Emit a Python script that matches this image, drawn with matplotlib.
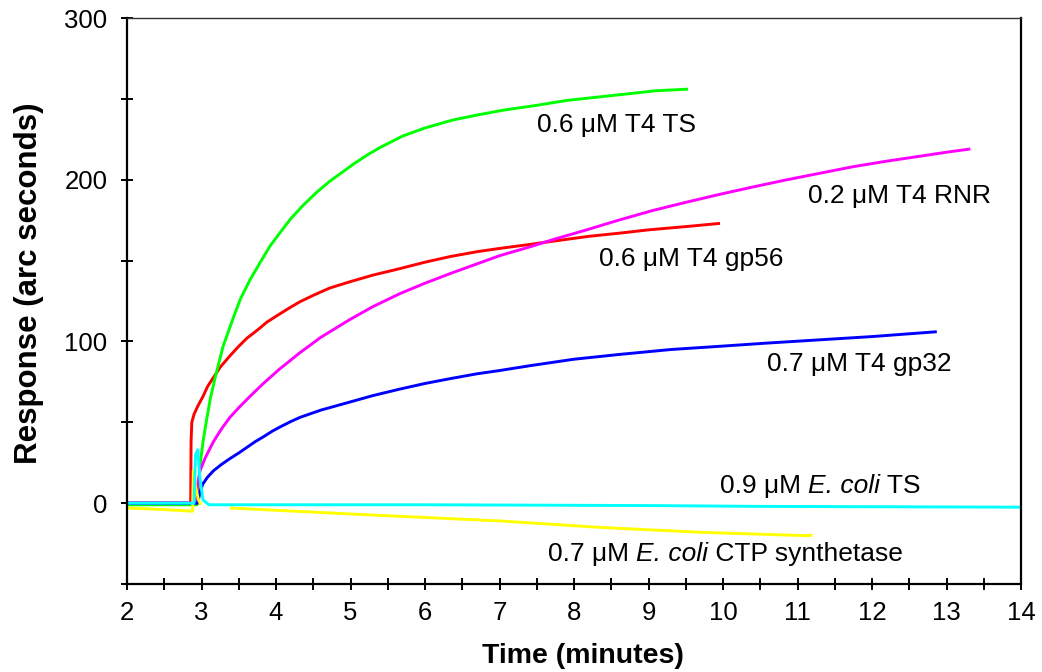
import matplotlib
matplotlib.use("Agg")
import matplotlib.pyplot as plt
from matplotlib.ticker import MultipleLocator, FixedLocator

plt.rcParams['font.family'] = ['Liberation Sans', 'DejaVu Sans']

# ---- data (time in minutes, response in arc seconds) ----
gp56_x = [2.0, 2.855, 2.86, 2.87, 2.9, 2.95, 3.02, 3.08, 3.15, 3.25, 3.38, 3.5, 3.61, 3.75, 3.88,
          4.05, 4.19, 4.32, 4.5, 4.72, 5.0, 5.3, 5.66, 6.0, 6.34, 6.7, 7.0, 7.41, 7.72, 8.2, 8.62,
          9.0, 9.5, 9.96]
gp56_y = [0, 0, 38, 50, 55, 60, 66, 72, 77, 84, 91, 97, 102, 107, 112,
          117, 121, 124.5, 128.5, 133, 137, 141, 145, 149, 152.5, 155.5, 157.5, 160, 162, 165, 167,
          169, 171, 173]

ts_x = [2.0, 2.94, 2.96, 2.98, 3.02, 3.07, 3.12, 3.18, 3.24, 3.29, 3.36, 3.43, 3.52, 3.65, 3.79,
        3.92, 4.05, 4.2, 4.36, 4.54, 4.72, 4.9, 5.05, 5.25, 5.40, 5.70, 6.0, 6.38, 6.7, 7.05,
        7.5, 7.9, 8.3, 8.7, 9.1, 9.53]
ts_y = [-1, -1, 8, 23, 38, 52, 65, 77, 88, 97, 106, 115, 126, 138, 149,
        159, 167, 176, 184, 192, 199, 205, 210, 216, 220, 227, 232, 237, 240, 243,
        246, 249, 251, 253, 255, 256]

rnr_x = [2.0, 2.93, 2.95, 2.98, 3.05, 3.16, 3.27, 3.38, 3.5, 3.65, 3.83, 4.05, 4.32, 4.6, 4.99,
         5.3, 5.66, 6.0, 6.34, 6.7, 7.0, 7.41, 7.72, 8.17, 8.6, 9.06, 9.5, 9.96, 10.4, 10.86,
         11.3, 11.74, 12.2, 12.64, 13.0, 13.32]
rnr_y = [0, 0, 12, 20, 28, 38, 46, 53, 59, 66, 74, 83, 93, 102.5, 113.5,
         121.5, 129.5, 136, 142, 148, 153, 158.5, 163, 169, 175, 181, 186, 191, 195.5, 200,
         204, 208, 211.5, 214.5, 217, 219]

gp32_x = [2.0, 2.95, 2.98, 3.02, 3.08, 3.16, 3.27, 3.38, 3.5, 3.61, 3.72, 3.83, 3.95, 4.05, 4.2,
          4.32, 4.6, 4.99, 5.3, 5.66, 6.0, 6.34, 6.7, 7.0, 7.41, 8.0, 8.62, 9.3, 9.96, 10.6,
          11.3, 12.0, 12.87]
gp32_y = [0, 0, 7, 12, 16, 20, 24, 27.5, 31, 34.5, 38, 41, 44.5, 47, 50.5,
          53, 57.5, 62.5, 66.5, 70.5, 74, 77, 80, 82, 85, 89, 92, 95, 97, 99,
          101, 103, 106]

ctp_x1 = [2.0, 2.5, 2.88, 2.89, 2.92, 2.96, 2.99]
ctp_y1 = [-3, -4, -5, 20, 10, 2, -1]
ctp_x2 = [3.38, 5.13, 7.0, 8.35, 9.69, 11.03, 11.2]
ctp_y2 = [-3, -7, -11, -15, -18, -20, -20]

ects_x = [2.0, 2.9, 2.92, 2.95, 2.98, 3.02, 3.1, 3.3, 6.0, 9.0, 10.5, 14.0]
ects_y = [0, 0, 30, 33, 15, 2, -1, -1, -1, -1.5, -2, -2.5]

# label pieces: (text, italic?)
labels = [
    [("0.6 μM T4 TS", False)],
    [("0.2 μM T4 RNR", False)],
    [("0.6 μM T4 gp56", False)],
    [("0.7 μM T4 gp32", False)],
    [("0.9 μM ", False), ("E. coli", True), (" TS", False)],
    [("0.7 μM ", False), ("E. coli", True), (" CTP synthetase", False)],
]
label_x = [7.50, 11.14, 8.34, 10.59, 9.96, 7.65]
label_y = [234, 190, 151, 86, 10.5, -31.5]

x_ticks = list(range(2, 15))
y_ticks = [0, 100, 200, 300]

# ---- figure ----
fig = plt.figure(figsize=(10.42, 6.72), dpi=100)
ax = fig.add_axes([127/1042, 1-584/672, (1021-127)/1042, (584-18)/672])

lw = 2.1
kw = dict(lw=lw, solid_joinstyle='round', solid_capstyle='butt')
ax.plot(gp56_x, gp56_y, color='#FF0000', **kw)
ax.plot(ts_x, ts_y, color='#00FF00', **kw)
ax.plot(rnr_x, rnr_y, color='#FF00FF', **kw)
ax.plot(gp32_x, gp32_y, color='#0000FF', **kw)
ax.plot(ctp_x1, ctp_y1, color='#FFFF00', **kw)
ax.plot(ctp_x2, ctp_y2, color='#FFFF00', **kw)
ax.plot(ects_x, ects_y, color='#00FFFF', **kw)

ax.set_xlim(2, 14)
ax.set_ylim(-50, 300)
ax.xaxis.set_major_locator(FixedLocator(x_ticks))
ax.xaxis.set_minor_locator(MultipleLocator(0.5))
ax.yaxis.set_major_locator(FixedLocator(y_ticks))
ax.yaxis.set_minor_locator(FixedLocator([-50, 50, 150, 250]))

ax.tick_params(axis='both', which='both', direction='inout', width=1.4, colors='black')
ax.tick_params(axis='both', which='major', length=8)
ax.tick_params(axis='both', which='minor', length=8)
ax.tick_params(axis='y', which='major', pad=10, labelsize=18.5)
ax.tick_params(axis='x', which='major', pad=8, labelsize=18.5)

for s in ['left', 'bottom', 'right']:
    ax.spines[s].set_linewidth(1.6)
ax.spines['top'].set_linewidth(1.0)
ax.spines['top'].set_color('#333333')

ax.set_xlabel('Time (minutes)', fontsize=20.5, fontweight='bold')
ax.xaxis.set_label_coords(0.51, -0.104)
ax.set_ylabel('Response (arc seconds)', fontsize=22.5, fontweight='bold')
ax.yaxis.set_label_coords(-0.093, 0.531)

# place labels, chaining text pieces on a common baseline
fig.canvas.draw()
renderer = fig.canvas.get_renderer()
for pieces, x0, y0 in zip(labels, label_x, label_y):
    # baseline so that the first piece's vertical centre sits at y0
    probe = ax.text(x0, y0, pieces[0][0], fontsize=19, ha='left', va='center')
    fig.canvas.draw()
    bb = probe.get_window_extent(renderer)
    probe.remove()
    xd, yd = ax.transData.transform((x0, y0))
    # baseline position in display coords
    t0 = ax.text(0, 0, pieces[0][0], fontsize=19, ha='left', va='baseline',
                 transform=None)
    t0.set_position((xd, yd))
    fig.canvas.draw()
    bb0 = t0.get_window_extent(renderer)
    shift = (bb.y0 + bb.y1) / 2 - (bb0.y0 + bb0.y1) / 2
    t0.set_position((xd, yd + shift))
    fig.canvas.draw()
    cur_x = t0.get_window_extent(renderer).x1
    base_y = yd + shift
    for text, ital in pieces[1:]:
        t = ax.text(0, 0, text, fontsize=19, ha='left', va='baseline',
                    style='italic' if ital else 'normal', transform=None)
        t.set_position((cur_x, base_y))
        fig.canvas.draw()
        cur_x = t.get_window_extent(renderer).x1

fig.savefig('out.png', dpi=100)
